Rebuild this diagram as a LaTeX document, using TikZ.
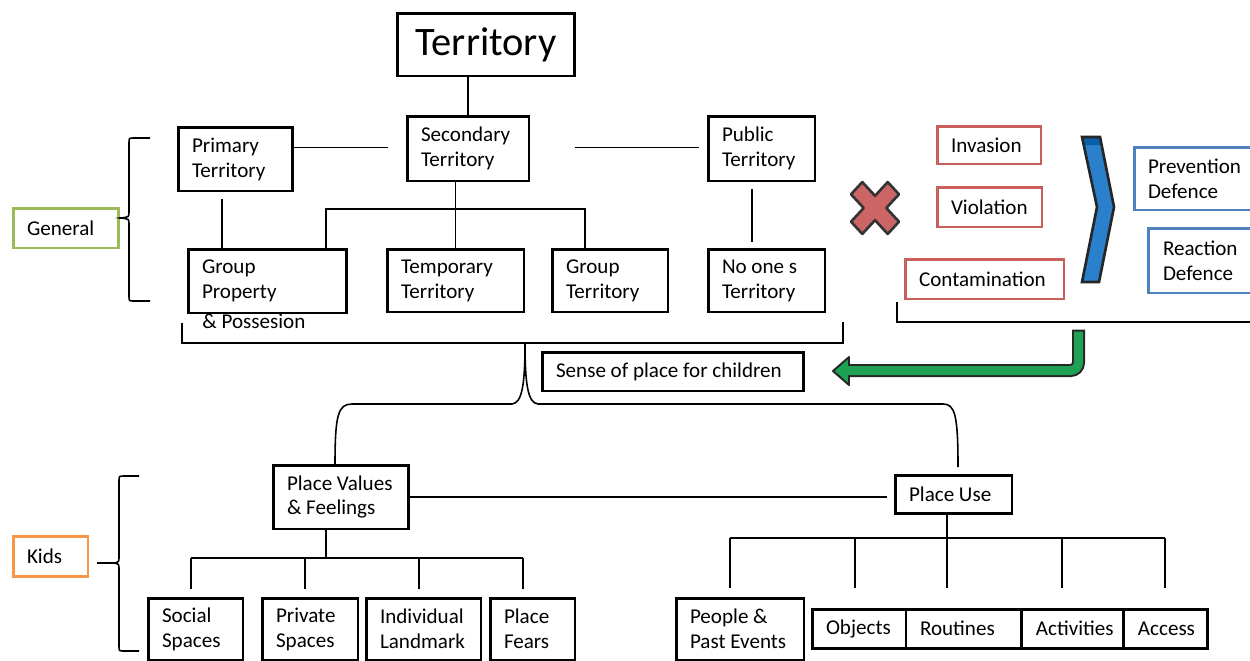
\documentclass[tikz,border=0pt]{standalone}
\usepackage{fontspec}
\setmainfont{Carlito}
\usetikzlibrary{positioning,calc}

\definecolor{gencol}{RGB}{155,187,89}
\definecolor{kidcol}{RGB}{247,150,70}
\definecolor{badcol}{RGB}{200,95,92}
\definecolor{defcol}{RGB}{79,129,189}
\definecolor{chevcol}{RGB}{42,128,202}
\definecolor{chevtop}{RGB}{10,95,170}
\definecolor{xcol}{RGB}{204,102,102}
\definecolor{arrcol}{RGB}{30,160,85}

\newcommand\boxfont{\fontsize{12}{14.2}\selectfont}

\tikzset{
  box/.style={draw, line width=1.7pt, fill=white, align=left, outer sep=0pt,
    inner xsep=0.28cm, inner ysep=0pt, font=\boxfont,
    execute at begin node={\spaceskip=2.7pt plus 1pt\relax}},
  link/.style={line width=1.1pt},
  brace/.style={line width=0.9pt},
}

\begin{document}
\begin{tikzpicture}[x=0.02cm, y=-0.02cm]
  \useasboundingbox (0,0) rectangle (1250,660);
  \clip (0,0) rectangle (1250,660);
  % general part
  \node[box, font=\fontsize{23}{27}\selectfont, align=center, minimum width=3.56cm, minimum height=1.26cm] (terr) at (486,44.5) {Territory};
  \node[box, text width=1.74cm, minimum height=1.28cm] (primary) at (235.5,159) {Primary\\Territory};
  \node[box, text width=1.88cm, minimum height=1.30cm] (secondary) at (468,148.5) {Secondary\\Territory};
  \node[box, text width=1.58cm, minimum height=1.30cm] (public) at (761.5,148.5) {Public\\Territory};
  \node[box, text width=2.62cm, minimum height=1.28cm] (groupprop) at (267.5,281) {Group\\Property};
  \node[font=\boxfont, anchor=west, inner sep=0pt] (gpmore) at ($(groupprop.south west)+(14,8)$) {\& Possesion};
  \node[box, text width=2.18cm, minimum height=1.26cm] (temporary) at (455.5,280.5) {Temporary\\Territory};
  \node[box, text width=1.76cm, minimum height=1.26cm] (groupterr) at (610,280.5) {Group\\Territory};
  \node[box, text width=1.78cm, minimum height=1.26cm] (noone) at (766.5,280.5) {No one s\\Territory};
  \node[box, draw=gencol, text width=1.56cm, minimum height=0.80cm] (general) at (66,228) {General};
  % threats and defences
  \node[box, draw=badcol, text width=1.52cm, minimum height=0.76cm] (invasion) at (989,145) {Invasion};
  \node[box, draw=badcol, text width=1.54cm, minimum height=0.80cm] (violation) at (989.5,207) {Violation};
  \node[box, draw=badcol, text width=2.62cm, minimum height=0.80cm] (contamination) at (984.5,279) {\mbox{Contamination}};
  \node[box, draw=defcol, text width=1.96cm, minimum height=1.26cm] (prevention) at (1197,178.5) {Prevention\\Defence};
  \node[box, draw=defcol, inner xsep=0.3cm, text width=1.68cm, minimum height=1.30cm] (reaction) at (1205,260.5) {Reaction\\Defence};
  % kids part
  \node[box, text width=4.68cm, minimum height=0.78cm] (sense) at (673,371.5) {\mbox{Sense of place for children}};
  \node[box, text width=2.16cm, minimum height=1.28cm] (placevalues) at (341,497) {\mbox{Place Values}\\\& Feelings};
  \node[box, text width=1.78cm, minimum height=0.76cm] (placeuse) at (953.5,494) {\mbox{Place Use}};
  \node[box, draw=kidcol, text width=0.94cm, minimum height=0.80cm] (kids) at (50.5,556) {Kids};
  \node[box, text width=1.34cm, minimum height=1.24cm] (social) at (195.5,629) {Social\\Spaces};
  \node[box, text width=1.36cm, minimum height=1.24cm] (private) at (310,629) {Private\\Spaces};
  \node[box, text width=1.74cm, minimum height=1.24cm] (landmark) at (423.5,629) {Individual\\Landmark};
  \node[box, text width=1.14cm, minimum height=1.24cm] (fears) at (532.5,629) {Place\\Fears};
  \node[box, text width=2.00cm, minimum height=1.24cm] (people) at (740,629) {\mbox{People \&}\\\mbox{Past Events}};
  \node[box, text width=1.32cm, minimum height=0.78cm] (objects) at (859,628.5) {Objects};
  \node[box, text width=1.76cm, minimum height=0.78cm, right=0pt of objects] (routines) {Routines};
  \node[box, text width=1.48cm, minimum height=0.78cm, right=0pt of routines] (activities) {Activities};
  \node[box, text width=1.12cm, minimum height=0.78cm, right=0pt of activities] (access) {Access};
  % tree lines
  \draw[link] (secondary.north) -- (secondary.north |- terr.south);
  \draw[link, shorten >=10.8pt] ($(secondary.west -| primary.east)+(0,-1)$) -- ($(secondary.west)+(0,-1)$);
  \draw[link, shorten <=26pt, shorten >=5pt] ($(secondary.east)+(0,-1)$) -- ($(secondary.east -| public.west)+(0,-1)$);
  \draw[link, shorten <=4.6pt] ($(primary.south)+(-13.5,0)$) -- ($(primary.south |- groupprop.north)+(-13.5,0)$);
  \draw[link] (temporary.north) -- (temporary.north |- secondary.south);
  \coordinate (jn) at (455.5,209);
  \draw[link] ($(groupprop.north)+(58.5,0)$) |- (jn) -| ($(groupterr.north)+(-25,0)$);
  \draw[link, shorten <=4.6pt, shorten >=4pt] ($(public.south)+(-9.5,0)$) -- ($(public.south |- noone.north)+(-9.5,0)$);
  % braces
  \coordinate (gtip) at (121,218);
  \draw[brace] (150,138) -- (134,138) .. controls (129,138) .. (129,143) -- (129,212) .. controls (129,217) .. (gtip) .. controls (129,219) .. (129,224) -- (129,296) .. controls (129,301) .. (134,301) -- (150,301);
  \draw[link] (general.east |- gtip) -- (gtip);
  \coordinate (ktip) at (114,563);
  \draw[brace] (139,476) -- (124,476) .. controls (119,476) .. (119,481) -- (119,557) .. controls (119,562) .. (ktip) .. controls (119,564) .. (119,569) -- (119,646) .. controls (119,651) .. (124,651) -- (139,651);
  \draw[link, shorten <=5pt] (kids.east |- ktip) -- (ktip);
  \draw[link] (182,323) -- (182,343) -- (843,343) -- (843,322);
  \draw[link] (897,302) -- (897,322) -- (1260,322);
  \draw[brace] (335,465) .. controls (335,415) and (338,404) .. (352,404) -- (512,404) .. controls (522,403) and (525,385) .. (525,343) .. controls (525,385) and (528,403) .. (538,404) -- (943,404) .. controls (955,404) and (958,415) .. (958,467);
  % kids lines
  \draw[link, shorten >=4.6pt] (placevalues.east) -- (placevalues.east -| placeuse.west);
  \coordinate (pvbar) at (326,558);
  \draw[link] ($(placevalues.south)+(-15,0)$) -- (pvbar);
  \draw[link] ($(social.north |- pvbar)+(-4.5,0)$) -- ($(fears.north |- pvbar)+(-9.5,0)$);
  \foreach \n/\dx in {social/-4.5, private/-5, landmark/-4.5, fears/-9.5}
    \draw[link] ($(\n.north |- pvbar)+(\dx,0)$) -- ++(0,31);
  \coordinate (pubar) at (947,538);
  \draw[link] ($(placeuse.south)+(-6.5,0)$) -- (pubar);
  \draw[link] ($(people.north |- pubar)+(-10,0)$) -- ($(access.north |- pubar)+(-1,0)$);
  \foreach \n/\dx in {people/-10, objects/-4, routines/-17, activities/-11, access/-1}
    \draw[link] ($(\n.north |- pubar)+(\dx,0)$) -- ++(0,50);
  % cross mark
  \filldraw[fill=xcol, draw=black!80, line width=1.5pt, line join=round, shift={(875,208)}, yscale=1.08]
    (0,-11.3) -- (12.7,-24) -- (24,-12.7) -- (11.3,0) -- (24,12.7) -- (12.7,24) -- (0,11.3)
    -- (-12.7,24) -- (-24,12.7) -- (-11.3,0) -- (-24,-12.7) -- (-12.7,-24) -- cycle;
  % chevron
  \fill[chevcol] (1082,137) -- (1100,137) -- (1114,207) -- (1099,282) -- (1082,282) -- (1097,207) -- cycle;
  \fill[chevtop] (1083,138) -- (1099,138) -- (1100.6,145) -- (1084.5,145) -- cycle;
  \draw[black!85, line width=1.5pt] (1082,137) -- (1100,137) -- (1114,207) -- (1099,282) -- (1082,282) -- (1097,207) -- cycle;
  % green arrow
  \draw[line width=0.26cm, black!85, rounded corners=0.16cm] (1078.5,329.5) -- (1078.5,370.5) -- (846,370.5);
  \filldraw[fill=arrcol, draw=black!85, line width=1.1pt, line join=round] (833,371) -- (849,357) -- (849,385) -- cycle;
  \draw[line width=0.18cm, arrcol, rounded corners=0.16cm] (1078.5,331.5) -- (1078.5,370.5) -- (846,370.5);
\end{tikzpicture}
\end{document}
